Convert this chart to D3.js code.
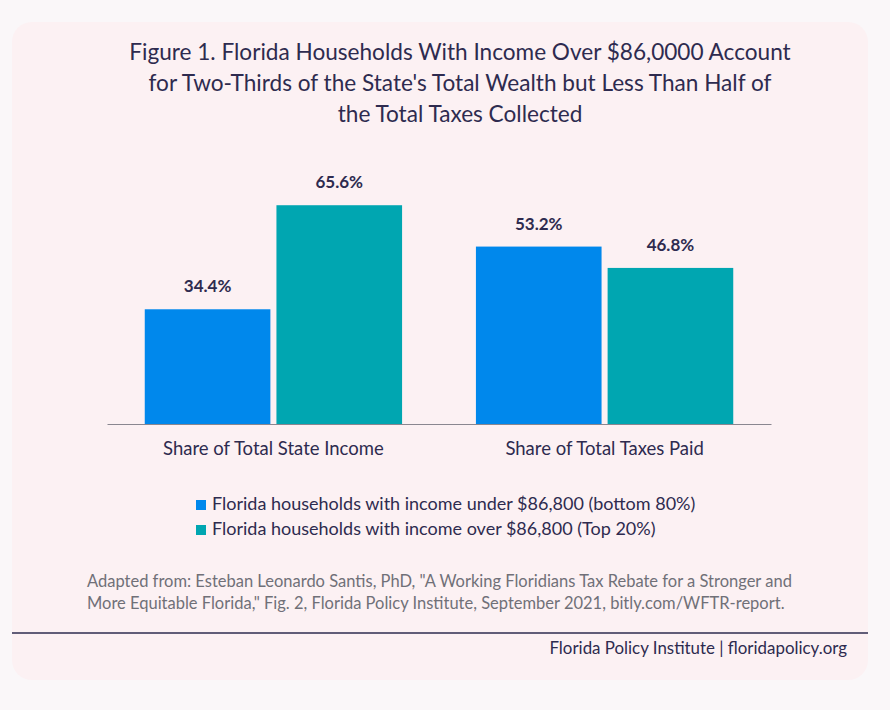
<!DOCTYPE html>
<html>
<head>
<meta charset="utf-8">
<script src="https://cdn.jsdelivr.net/npm/d3@7"></script>
<style>
  body { margin: 0; background: #faf7f9; }
  svg { display: block; font-family: Lato, "Noto Sans", sans-serif; }
</style>
</head>
<body>
<div id="chart"></div>
<script>
'use strict';

// data
var categories = ['Share of Total State Income', 'Share of Total Taxes Paid'];
var seriesNames = [
    'Florida households with income under $86,800 (bottom 80%)',
    'Florida households with income over $86,800 (Top 20%)'
];
var bottom80 = [34.4, 53.2];
var top20 = [65.6, 46.8];
var titleLines = [
    'Figure 1. Florida Households With Income Over $86,0000 Account',
    'for Two-Thirds of the State\'s Total Wealth but Less Than Half of',
    'the Total Taxes Collected'
];
var sourceLines = [
    'Adapted from: Esteban Leonardo Santis, PhD, "A Working Floridians Tax Rebate for a Stronger and',
    'More Equitable Florida," Fig. 2, Florida Policy Institute, September 2021, bitly.com/WFTR-report.'
];
var footerText = 'Florida Policy Institute | floridapolicy.org';

var W = 890, H = 710,
    ink = '#2e2b4f',
    colors = ['#0088ec', '#00a6b1'];

var svg = d3.select('#chart').append('svg')
    .attr('width', W)
    .attr('height', H);

// card
svg.append('rect')
    .attr('x', 12).attr('y', 22)
    .attr('width', 856).attr('height', 658)
    .attr('rx', 20)
    .attr('fill', '#fcf1f3');

// title
svg.append('g').selectAll('text')
    .data(titleLines).enter()
    .append('text')
    .attr('x', 460)
    .attr('y', function(d, i){ return 60 + i * 31; })
    .attr('text-anchor', 'middle')
    .attr('font-size', '22.6px')
    .attr('fill', ink)
    .text(function(d){ return d; });

// scales
var x0 = d3.scaleBand()
    .domain(categories)
    .range([107, 771])
    .paddingInner(0.223)
    .paddingOuter(0.114);

var x1 = d3.scaleBand()
    .domain([0, 1])
    .range([0, x0.bandwidth()])
    .paddingInner(0.046);

var y = d3.scaleLinear()
    .domain([0, 70])
    .range([424, 424 - 70 * 3.335]);

var rows = categories.map(function(c, i){
    return {cat: c, values: [bottom80[i], top20[i]]};
});

var groups = svg.append('g').selectAll('g')
    .data(rows).enter()
    .append('g')
    .attr('transform', function(d){ return 'translate(' + x0(d.cat) + ',0)'; });

groups.selectAll('rect')
    .data(function(d){ return d.values; }).enter()
    .append('rect')
    .attr('x', function(d, i){ return x1(i); })
    .attr('y', function(d){ return y(d); })
    .attr('width', x1.bandwidth())
    .attr('height', function(d){ return y(0) - y(d); })
    .attr('fill', function(d, i){ return colors[i]; });

groups.selectAll('text')
    .data(function(d){ return d.values; }).enter()
    .append('text')
    .attr('x', function(d, i){ return x1(i) + x1.bandwidth() / 2; })
    .attr('y', function(d){ return y(d) - 17; })
    .attr('text-anchor', 'middle')
    .attr('font-size', '17px')
    .attr('font-weight', 'bold')
    .attr('fill', ink)
    .text(function(d){ return d.toFixed(1) + '%'; });

// x axis
var xAxis = svg.append('g')
    .attr('transform', 'translate(0,' + y(0) + ')')
    .call(d3.axisBottom(x0).tickSize(0).tickPadding(18));
xAxis.select('.domain').attr('stroke', '#8a8790');
xAxis.selectAll('text')
    .attr('font-family', 'Lato, "Noto Sans", sans-serif')
    .attr('font-size', '18.5px')
    .attr('fill', ink);

// legend
var legend = svg.append('g').selectAll('g')
    .data(seriesNames).enter()
    .append('g')
    .attr('transform', function(d, i){ return 'translate(196,' + (500 + i * 25) + ')'; });
legend.append('rect')
    .attr('width', 10).attr('height', 10)
    .attr('fill', function(d, i){ return colors[i]; });
legend.append('text')
    .attr('x', 16).attr('y', 10)
    .attr('font-size', '18px')
    .attr('fill', ink)
    .text(function(d){ return d; });

// source note
svg.append('g').selectAll('text')
    .data(sourceLines).enter()
    .append('text')
    .attr('x', 87)
    .attr('y', function(d, i){ return 587 + i * 22; })
    .attr('font-size', '16.5px')
    .attr('fill', '#707078')
    .text(function(d){ return d; });

// footer
svg.append('line')
    .attr('x1', 12).attr('x2', 868)
    .attr('y1', 633).attr('y2', 633)
    .attr('stroke', ink)
    .attr('stroke-width', 1.3);
svg.append('text')
    .attr('x', 847).attr('y', 654)
    .attr('text-anchor', 'end')
    .attr('font-size', '16.9px')
    .attr('fill', ink)
    .text(footerText);
</script>
</body>
</html>
